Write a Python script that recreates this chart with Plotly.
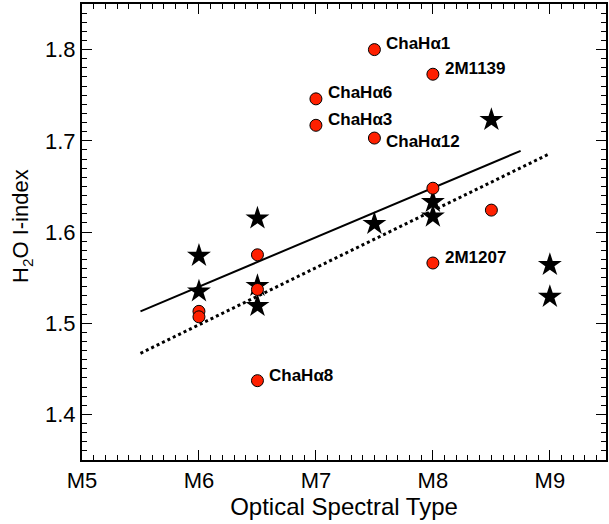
import plotly.graph_objects as go

# Red circles (objects with H2O index)
circ_x = [7.5, 8.0, 7.0, 7.0, 7.5, 8.0, 8.5, 8.0, 6.5, 6.5, 6.0, 6.0, 6.5]
circ_y = [1.800, 1.773, 1.746, 1.717, 1.703, 1.648, 1.624, 1.566, 1.575, 1.537, 1.513, 1.507, 1.437]

# Stars
star_x = [6.0, 6.0, 6.5, 6.5, 6.5, 7.5, 8.0, 8.0, 8.5, 9.0, 9.0]
star_y = [1.574, 1.535, 1.615, 1.541, 1.519, 1.609, 1.633, 1.617, 1.723, 1.564, 1.529]

# Fit lines (endpoints)
solid_x = [5.5, 8.75]
solid_y = [1.513, 1.689]
dot_x = [5.5, 9.0]
dot_y = [1.467, 1.686]

# Labelled objects
lab_names = ["ChaHα1", "2M1139", "ChaHα6", "ChaHα3", "ChaHα12", "2M1207", "ChaHα8"]
lab_x = [7.5, 8.0, 7.0, 7.0, 7.5, 8.0, 6.5]
lab_y = [1.800, 1.773, 1.746, 1.717, 1.703, 1.566, 1.437]
lab_dy = [6, 6, 6, 6, -3, 6, 5]  # pixel shift of text relative to the marker

tick_vals = [5, 6, 7, 8, 9]
tick_text = ["M5", "M6", "M7", "M8", "M9"]

font = "Liberation Sans, Arial, Helvetica, sans-serif"

fig = go.Figure()
fig.add_trace(go.Scatter(x=solid_x, y=solid_y, mode="lines",
                         line=dict(color="black", width=2), showlegend=False))
fig.add_trace(go.Scatter(x=dot_x, y=dot_y, mode="lines",
                         line=dict(color="black", width=3, dash="dot"), showlegend=False))
fig.add_trace(go.Scatter(x=star_x, y=star_y, mode="markers",
                         marker=dict(symbol="star", size=18, color="black",
                                     line=dict(width=0)), showlegend=False))
fig.add_trace(go.Scatter(x=circ_x, y=circ_y, mode="markers",
                         marker=dict(symbol="circle", size=12, color="#ff2000",
                                     line=dict(color="black", width=1)), showlegend=False))

for n, x, y, dy in zip(lab_names, lab_x, lab_y, lab_dy):
    fig.add_annotation(x=x, y=y, text="<b>" + n + "</b>", showarrow=False,
                       xanchor="left", yanchor="middle", xshift=10, yshift=dy,
                       font=dict(family=font, size=17, color="black"))

# y-axis title as a rotated annotation
fig.add_annotation(xref="paper", yref="paper", x=0, y=0.5, xshift=-60, yshift=6,
                   text="H<sub>2</sub>O I-index", textangle=-90, showarrow=False,
                   xanchor="center", yanchor="middle",
                   font=dict(family=font, size=22, color="black"))

axis_common = dict(showline=True, linecolor="black", linewidth=2, mirror="allticks",
                   ticks="inside", ticklen=10, tickwidth=1, tickcolor="black",
                   showgrid=False, zeroline=False,
                   tickfont=dict(family=font, size=22, color="black"))

fig.update_xaxes(range=[5, 9.48], tickmode="array", tickvals=tick_vals, ticktext=tick_text,
                 minor=dict(tickmode="linear", tick0=5, dtick=0.1, ticks="inside",
                            ticklen=5, tickcolor="black", tickwidth=1, showgrid=False),
                 title=dict(text="Optical Spectral Type", standoff=1,
                            font=dict(family=font, size=24, color="black")),
                 **axis_common)
fig.update_yaxes(range=[1.35, 1.85], tickmode="linear", tick0=1.4, dtick=0.1,
                 tickformat=".1f",
                 minor=dict(tickmode="linear", tick0=1.35, dtick=0.01, ticks="inside",
                            ticklen=5, tickcolor="black", tickwidth=1, showgrid=False),
                 **axis_common)

fig.update_layout(width=609, height=524, margin=dict(l=82, r=1, t=4, b=64),
                  plot_bgcolor="white", paper_bgcolor="white")

fig.write_html("out.html")
